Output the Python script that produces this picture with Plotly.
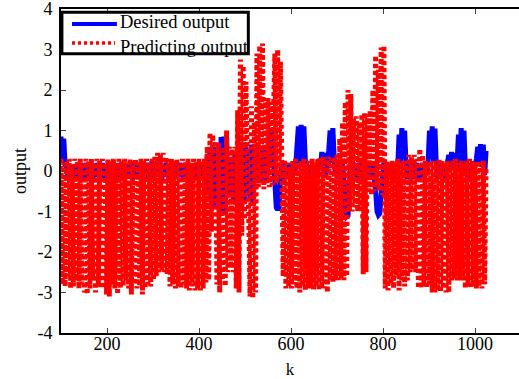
import plotly.graph_objects as go

# sample index k (every 3rd sample from 100 to 1024)
k = list(range(100, 1025, 3))

# Predicting output (red), rows of 10 samples = 30 k each
predicted = [
    0.3, -2.8, 0.2, -2.85, 0.25, -2.6, 0.3, -2.9, 0.1, -2.85,      # 100-127
    0.3, -2.7, 0.25, -2.9, 0.3, -2.8, 0.2, -3.0, 0.3, -3.05,       # 130-157
    0.25, -2.9, 0.3, -2.7, 0.2, -3.0, 0.3, -2.85, 0.25, -2.9,      # 160-187
    0.3, -2.9, 0.2, -3.05, 0.3, -3.1, 0.25, -2.8, 0.3, -2.9,       # 190-217
    0.2, -3.05, 0.3, -2.9, 0.25, -2.85, 0.3, -2.7, 0.2, -2.9,      # 220-247
    0.3, -3.05, 0.25, -2.8, 0.3, -2.9, 0.2, -2.85, 0.3, -3.05,     # 250-277
    0.25, -2.9, 0.3, -2.8, 0.2, -2.85, 0.3, -2.7, 0.35, -2.6,      # 280-307
    0.45, -2.5, 0.4, -2.45, 0.45, -2.5, 0.35, -2.55, 0.3, -2.85,   # 310-337
    0.3, -2.8, 0.25, -2.9, 0.3, -2.85, 0.2, -2.9, 0.3, -2.8,       # 340-367
    0.25, -2.9, 0.3, -2.95, 0.2, -2.85, 0.3, -2.95, 0.25, -2.9,    # 370-397
    0.3, -2.95, 0.25, -2.9, 0.3, -2.75, 0.6, -2.7, 0.95, -1.5,     # 400-427
    0.9, -1.5, 0.75, -2.8, 0.7, -3.0, 0.5, -2.7, 0.6, -2.85,       # 430-457
    1.0, -2.5, 0.6, -2.4, 0.55, -2.5, 0.6, -2.9, 1.5, -3.0,        # 460-487
    2.75, -1.6, 2.6, -1.2, 2.2, 0.3, -1.0, -3.1, 1.6, -3.15,       # 490-517
    1.2, -3.0, 2.9, -0.4, 3.1, -0.3, 3.15, -0.45, 1.8, -0.3,       # 520-547
    1.8, -0.4, 1.7, -0.35, 1.5, 2.9, -0.3, 3.0, -0.2, 2.7,         # 550-577
    0.2, -2.6, 0.25, -2.9, 0.2, -2.85, 0.1, -2.9, 0.25, -2.8,      # 580-607
    0.3, -2.9, 0.2, -3.0, 0.25, -2.85, 0.3, -2.95, 0.2, -2.9,      # 610-637
    0.25, -2.9, 0.3, -2.95, 0.2, -2.85, 0.3, -2.95, 0.35, -2.9,    # 640-667
    0.35, -2.9, 0.3, -3.0, 0.35, -2.7, 0.3, -2.75, 0.35, -2.7,     # 670-697
    0.4, -2.7, 0.8, -2.65, 1.2, -2.7, 1.7, -2.6, 2.0, -1.0,        # 700-727
    1.9, -1.0, 1.3, -0.9, 1.35, -1.0, 1.2, -0.95, 1.4, -2.55,      # 730-757
    1.45, -2.5, 1.4, -0.5, 1.5, -0.6, 2.0, -0.5, 2.85, -0.4,       # 760-787
    2.5, -0.5, 3.05, -0.6, 3.1, -2.9, 0.25, -2.95, 0.2, -2.8,      # 790-817
    0.25, -2.9, 0.2, -2.6, 0.3, -2.95, 0.2, -2.7, 0.25, -2.85,     # 820-847
    0.25, -2.7, 0.4, -2.5, 0.35, -2.45, 0.4, -2.5, 0.3, -2.9,      # 850-877
    0.55, -2.9, 0.4, -2.85, 0.25, -2.9, 0.2, -2.8, 0.25, -3.0,     # 880-907
    0.25, -3.0, 0.2, -2.95, 0.3, -3.0, 0.25, -2.9, 0.2, -3.0,      # 910-937
    0.25, -3.0, 0.2, -2.7, 0.25, -2.65, 0.3, -2.7, 0.2, -2.7,      # 940-967
    0.25, -2.7, 0.2, -2.9, 0.25, -2.85, 0.3, -2.9, 0.25, -2.85,    # 970-997
    0.2, -2.9, 0.25, -2.85, 0.2, -2.9, 0.25, -2.8, 0.1,            # 1000-1024
]

# Desired output (blue)
desired = [
    0.85, 0.2, 0.8, 0.15, 0.1, -0.2, 0.1, 0.0, -0.15, 0.1,         # 100-127
    0.1, -0.2, 0.15, -0.1, 0.2, -0.25, 0.1, -0.1, 0.2, -0.2,       # 130-157
    0.15, -0.1, 0.2, -0.2, 0.1, -0.15, 0.2, -0.1, 0.1, -0.2,       # 160-187
    0.2, -0.15, 0.1, -0.2, 0.15, -0.1, 0.2, -0.25, 0.1, -0.1,      # 190-217
    0.1, -0.2, 0.2, -0.1, 0.15, -0.2, 0.1, -0.15, 0.2, -0.1,       # 220-247
    0.15, -0.1, 0.2, -0.2, 0.1, -0.15, 0.2, -0.1, 0.15, -0.2,      # 250-277
    0.1, -0.2, 0.2, -0.1, 0.15, -0.25, 0.25, -0.1, 0.2, -0.15,     # 280-307
    0.2, -0.1, 0.15, -0.2, 0.1, -0.15, 0.2, -0.1, 0.1, -0.2,       # 310-337
    0.15, -0.1, 0.2, -0.2, 0.1, -0.15, 0.2, -0.1, 0.15, -0.2,      # 340-367
    0.1, -0.2, 0.2, -0.1, 0.15, -0.2, 0.1, -0.15, 0.2, -0.1,       # 370-397
    0.1, -0.2, 0.15, -0.1, 0.2, -0.2, 0.4, -0.6, 0.6, -0.8,        # 400-427
    0.5, -0.9, 0.6, -0.8, 0.5, -0.9, 0.84, -1.0, 0.85, -0.9,       # 430-457
    0.8, -0.6, 0.3, -0.5, 0.2, -0.7, 0.4, -0.8, 0.5, -0.9,         # 460-487
    0.7, -0.9, 0.7, -0.8, 0.6, -0.5, 0.3, -0.7, 0.65, -0.8,        # 490-517
    0.5, -0.3, 0.6, -0.2, 0.4, -0.3, 0.5, -0.2, 0.6, -0.3,         # 520-547
    0.3, 0.9, 0.1, 1.0, 0.2, -0.3, -0.9, -0.96, -0.9, -0.2,        # 550-577
    0.2, -0.2, 0.15, -0.1, 0.2, -0.2, 0.1, -0.1, 0.2, -0.1,        # 580-607
    0.1, 0.6, 1.1, 0.2, 1.14, 0.1, 1.1, 0.3, -0.2, 0.1,            # 610-637
    -0.2, 0.15, -0.1, 0.2, -0.2, 0.1, -0.1, 0.3, 0.1, 0.47,        # 640-667
    0.1, 0.45, -0.1, 0.2, 0.5, 1.0, 0.2, 1.06, 0.3, -0.1,          # 670-697
    0.2, -0.2, 0.1, -0.1, 0.2, -0.3, -1.0, -1.13, -1.1, -0.3,      # 700-727
    0.2, -0.2, 0.1, -0.1, 0.2, -0.2, 0.1, -0.1, 0.2, -0.2,         # 730-757
    0.1, -0.1, 0.2, -0.2, 0.1, -0.1, 0.2, -0.2, -0.5, -1.0,        # 760-787
    -1.09, -1.05, -0.6, -0.1, 0.2, -0.2, 0.1, -0.1, 0.2, -0.2,     # 790-817
    0.1, -0.1, 0.2, -0.2, 0.1, 0.9, 0.2, 1.06, 0.3, 1.0,           # 820-847
    0.2, -0.2, 0.1, -0.1, 0.2, -0.2, 0.1, -0.1, 0.2, -0.2,         # 850-877
    0.1, -0.1, 0.2, -0.2, 0.1, -0.1, 0.2, 1.0, 0.3, 1.1,           # 880-907
    0.2, 1.05, 0.1, -0.2, 0.1, -0.1, 0.2, -0.2, 0.1, -0.1,         # 910-937
    0.2, 0.4, 0.1, 0.47, 0.15, 0.45, -0.1, 0.2, 0.9, 0.1,          # 940-967
    1.06, 0.2, 1.0, 0.1, -0.1, 0.2, -0.2, 0.1, -0.1, 0.2,          # 970-997
    0.1, 0.3, 0.6, 0.2, 0.66, 0.1, 0.65, -0.1, 0.5,                # 1000-1024
]

x_ticks = [200, 400, 600, 800, 1000]
y_ticks = [-4, -3, -2, -1, 0, 1, 2, 3, 4]
y_tick_labels = ["-4", "-3", "-2", "-1", "0", "1", "2", "3", "4"]
series_names = ["Desired output", "Predicting output"]

FONT = "Liberation Serif, Times New Roman, serif"
BLUE = "#0000ff"
RED = "#ff0000"
DOT = "4px,3px"

fig = go.Figure()
fig.add_trace(go.Scatter(
    x=k, y=desired, mode="lines", name=series_names[0],
    line=dict(color=BLUE, width=5, simplify=False),
))
fig.add_trace(go.Scatter(
    x=k, y=predicted, mode="lines", name=series_names[1],
    line=dict(color=RED, width=5, dash=DOT, simplify=False),
))

# hand-made legend box (top-left, inside the axes), paper coordinates
fig.add_shape(type="rect", xref="paper", yref="paper",
              x0=0.002, x1=0.409, y0=0.862, y1=0.990,
              line=dict(color="black", width=3), fillcolor="white", layer="above")
fig.add_shape(type="line", xref="paper", yref="paper",
              x0=0.024, x1=0.122, y0=0.954, y1=0.954,
              line=dict(color=BLUE, width=4), layer="above")
fig.add_shape(type="line", xref="paper", yref="paper",
              x0=0.024, x1=0.118, y0=0.895, y1=0.895,
              line=dict(color=RED, width=3.5, dash="3px,3px"), layer="above")
fig.add_annotation(xref="paper", yref="paper", x=0.125, y=0.961,
                   xanchor="left", yanchor="middle", showarrow=False,
                   text=series_names[0], font=dict(family=FONT, size=18.5, color="black"))
fig.add_annotation(xref="paper", yref="paper", x=0.125, y=0.884,
                   xanchor="left", yanchor="middle", showarrow=False,
                   text=series_names[1], font=dict(family=FONT, size=18.5, color="black"))

fig.update_layout(
    width=519, height=379,
    margin=dict(l=61, r=0, t=9, b=46),
    paper_bgcolor="white", plot_bgcolor="white",
    font=dict(family=FONT, size=18, color="black"),
    showlegend=False,
    xaxis=dict(
        range=[100, 1095.65], tickvals=x_ticks, ticks="inside", ticklen=5,
        tickwidth=1, showline=True, linewidth=2, linecolor="black",
        mirror="ticks", showgrid=False, zeroline=False,
        tickfont=dict(family=FONT, size=18), ticklabelstandoff=-7,
        ticklabeloverflow="allow",
        title=dict(text="k", font=dict(family=FONT, size=17), standoff=12),
    ),
    yaxis=dict(
        range=[-4, 4], tickvals=y_ticks, ticktext=y_tick_labels,
        ticks="inside", ticklen=5, tickwidth=1, showline=True, linewidth=2,
        linecolor="black", mirror=False, showgrid=False, zeroline=False,
        tickfont=dict(family=FONT, size=18), ticklabelstandoff=3,
        ticklabeloverflow="allow",
        title=dict(text="output", font=dict(family=FONT, size=18), standoff=6),
    ),
    yaxis2=dict(
        range=[-4, 4], tickvals=y_ticks, overlaying="y", side="right",
        anchor="x", ticks="inside", ticklen=5, tickwidth=1,
        showticklabels=False, showline=False, showgrid=False, zeroline=False,
    ),
)

fig.write_html("out.html", config={"displayModeBar": False},
               post_script="document.body.style.margin='0px';")
